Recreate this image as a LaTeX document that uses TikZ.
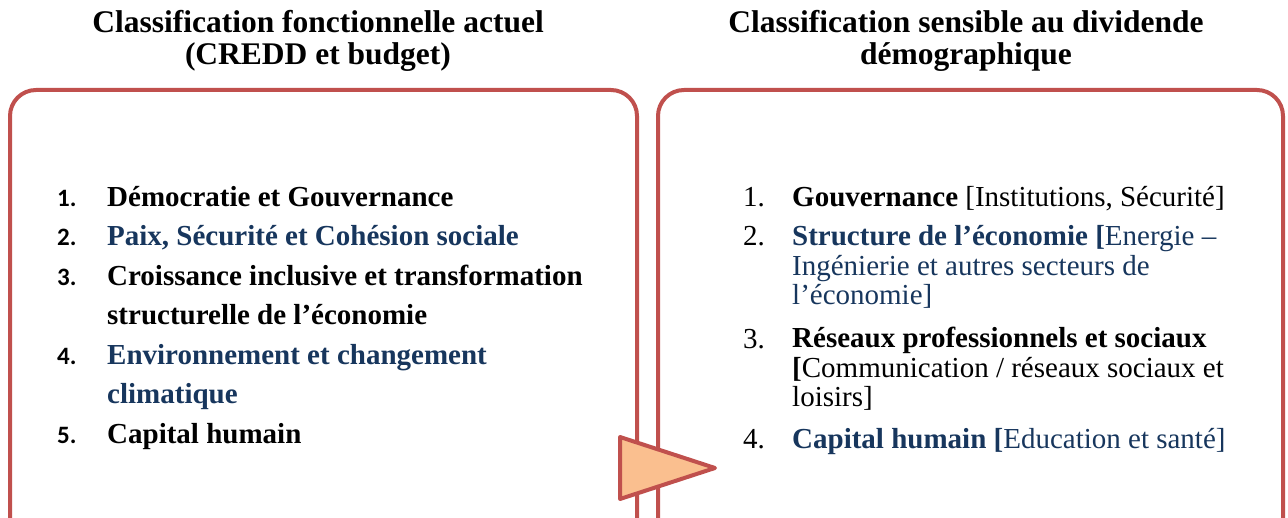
\documentclass[tikz,border=0pt]{standalone}
\usepackage{fontspec}
\setmainfont{Liberation Serif}
\newfontfamily\numfont{Carlito}
\usetikzlibrary{positioning}
\definecolor{boxred}{RGB}{192,80,77}
\definecolor{arrfill}{RGB}{250,191,143}
\definecolor{navy}{RGB}{23,54,93}

\begin{document}
\begin{tikzpicture}[x=1pt, y=-1pt]
    \tikzstyle{frame}=[draw=boxred, line width=4pt, rounded corners=26pt]
    \tikzstyle{head}=[align=center, inner sep=0, font=\bfseries\fontsize{31.5}{32}\selectfont]
    \tikzstyle{numl}=[anchor=base west, inner sep=0, font=\numfont\bfseries\fontsize{25}{25}\selectfont]
    \tikzstyle{numr}=[anchor=base west, inner sep=0, font=\fontsize{29}{29}\selectfont]
    \tikzstyle{iteml}=[anchor=base west, inner sep=0, align=left, font=\bfseries\fontsize{29}{39.3}\selectfont]
    \tikzstyle{itemr}=[anchor=base west, inner sep=0, align=left, font=\fontsize{29}{29.5}\selectfont]

    \useasboundingbox (0,0) rectangle (1288,518);

    % titres
    \node[head] (h1) at (318,41) {Classification fonctionnelle actuel\\(CREDD et budget)};
    \node[head] (h2) at (966,41) {Classification sensible au dividende\\démographique};

    % cadres
    \draw[frame] (10,521) -- (10,90) -- (637,90) -- (637,521);
    \draw[frame] (658,521) -- (658,90) -- (1283,90) -- (1283,521);

    % liste de gauche (base = derniere ligne)
    \node[numl]  (n1) at (57,207) {1.};
    \node[iteml] (l1) at (107,207) {Démocratie et Gouvernance};
    \node[numl]  (n2) at (57,246) {2.};
    \node[iteml, text=navy] (l2) at (107,246) {Paix, Sécurité et Cohésion sociale};
    \node[numl]  (n3) at (57,286) {3.};
    \node[iteml] (l3) at (107,325) {Croissance inclusive et transformation\\structurelle de l’économie};
    \node[numl]  (n4) at (57,365) {4.};
    \node[iteml, text=navy] (l4) at (107,404) {Environnement et changement\\climatique};
    \node[numl]  (n5) at (57,443) {5.};
    \node[iteml] (l5) at (107,443) {Capital humain};

    % liste de droite
    \node[numr]  (m1) at (743,207) {1.};
    \node[itemr] (r1) at (792,207) {\textbf{Gouvernance} [Institutions, Sécurité]};
    \node[numr]  (m2) at (743,246) {2.};
    \node[itemr, text=navy] (r2) at (792,305) {\textbf{Structure de l’économie [}Energie –\\Ingénierie et autres secteurs de\\l’économie]};
    \node[numr]  (m3) at (743,349) {3.};
    \node[itemr] (r3) at (792,407) {\textbf{Réseaux professionnels et sociaux}\\\textbf{[}Communication / réseaux sociaux et\\loisirs]};
    \node[numr]  (m4) at (743,449) {4.};
    \node[itemr, text=navy] (r4) at (792,449) {\textbf{Capital humain [}Education et santé]};

    % fleche
    \draw[draw=boxred, fill=arrfill, line width=4pt, line join=round] (620,437) -- (715,468) -- (620,499) -- cycle;

\end{tikzpicture}
\end{document}
